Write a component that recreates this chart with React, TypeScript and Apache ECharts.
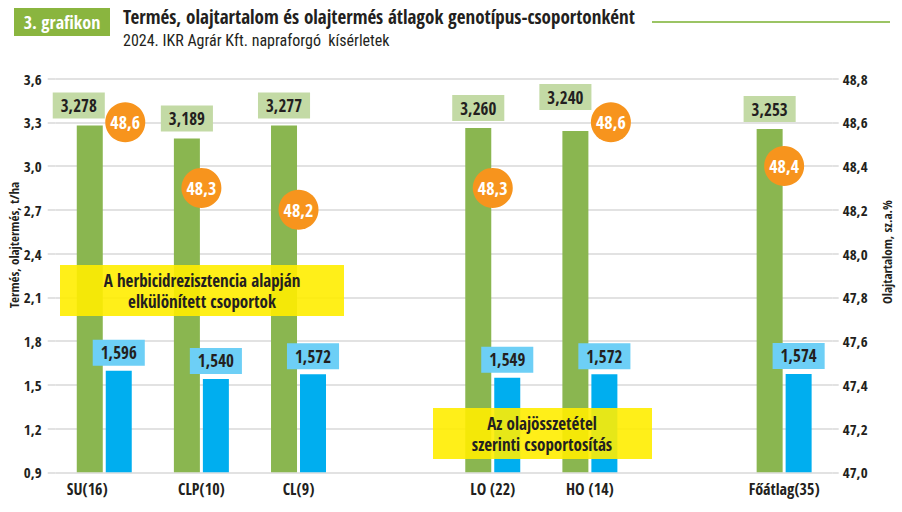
import React, { useEffect, useRef } from "react";
import * as echarts from "echarts";

const categories = ["SU(16)", "CLP(10)", "CL(9)", "", "LO (22)", "HO (14)", "", "Főátlag(35)"];
const yieldValues = [3.278, 3.189, 3.277, null, 3.26, 3.24, null, 3.253];
const oilYieldValues = [1.596, 1.54, 1.572, null, 1.549, 1.572, null, 1.574];
const oilContentValues = [48.6, 48.3, 48.2, null, 48.3, 48.6, null, 48.4];
const leftTicks = { min: 0.9, max: 3.6, interval: 0.3 };
const rightTicks = { min: 47.0, max: 48.8, interval: 0.2 };
const leftAxisTitle = "Termés, olajtermés, t/ha";
const rightAxisTitle = "Olajtartalom, sz.a.%";

// styling tweaks (not data)
const greenLabelOffsets = [[-11, 0], [0, 0], [0, 0], [0, 0], [0, 0], [-10, -14], [0, 0], [0, 0]];
const circleOffsets = [[21, 0], [0, 0], [0, 0], [0, 0], [0, 0], [21, 0], [0, 0], [0, 0]];

const FONT = "'Open Sans Condensed', 'Roboto Condensed', 'Liberation Sans', sans-serif";
const FONT_REG = "'Roboto Condensed', 'Liberation Sans', sans-serif";
const DARK = "#231f20";
const comma = (v: number, d: number) => v.toFixed(d).replace(".", ",");

export default function App() {
  const ref = useRef<HTMLDivElement>(null);
  useEffect(() => {
    if (!ref.current) return;
    const chart = echarts.init(ref.current, null, { renderer: "svg" });
    const xLabelStyle = { fontFamily: FONT, fontWeight: "bold", fontSize: 16, color: DARK };
    const option: any = {
      animation: false,
      backgroundColor: "#ffffff",
      textStyle: { fontFamily: FONT },
      grid: { left: 55.7, right: 69.3, top: 78.5, bottom: 39.7, containLabel: false, outerBoundsMode: "none" },
      xAxis: {
        type: "category",
        data: categories,
        axisLine: { show: false },
        axisTick: { show: false },
        axisLabel: {
          ...xLabelStyle,
          margin: 9,
          interval: 0,
          formatter: (v: string, i: number) => (i === 0 ? `{first|${v}}` : v),
          rich: { first: { ...xLabelStyle, padding: [0, 34, 0, 0] } },
        },
      },
      yAxis: [
        {
          type: "value",
          min: leftTicks.min,
          max: leftTicks.max,
          interval: leftTicks.interval,
          axisLine: { show: false },
          axisTick: { show: true, length: 8, lineStyle: { color: "#d9d9d9", width: 1.5 } },
          splitLine: { lineStyle: { color: "#d9d9d9", width: 1.5 } },
          axisLabel: {
            fontFamily: FONT, fontWeight: "bold", fontSize: 15, color: DARK, margin: 14,
            formatter: (v: number) => comma(v, 1),
          },
        },
        {
          type: "value",
          min: rightTicks.min,
          max: rightTicks.max,
          interval: rightTicks.interval,
          axisLine: { show: false },
          axisTick: { show: true, length: 6, lineStyle: { color: "#d9d9d9", width: 1.5 } },
          splitLine: { show: false },
          axisLabel: {
            fontFamily: FONT, fontWeight: "bold", fontSize: 15, color: DARK, margin: 10,
            formatter: (v: number) => comma(v, 1),
          },
        },
      ],
      series: [
        {
          type: "bar",
          name: "Termés",
          yAxisIndex: 0,
          barWidth: 26,
          barGap: "11.5%",
          itemStyle: { color: "#8ab650" },
          data: yieldValues.map((v, i) => ({
            value: v,
            label: { offset: greenLabelOffsets[i] },
          })),
          label: {
            show: true,
            position: "top",
            distance: 7,
            backgroundColor: "#c3daa5",
            padding: [4, 8, 4, 8],
            fontFamily: FONT,
            fontWeight: "bold",
            fontSize: 17,
            lineHeight: 18,
            color: DARK,
            formatter: (p: any) => (p.value == null ? "" : comma(p.value, 3)),
          },
          z: 2,
        },
        {
          type: "bar",
          name: "Olajtermés",
          yAxisIndex: 0,
          barWidth: 26,
          itemStyle: { color: "#00aeef" },
          data: oilYieldValues,
          label: {
            show: true,
            position: "top",
            distance: 5,
            backgroundColor: "#6dcff6",
            padding: [4, 8, 4, 8],
            fontFamily: FONT,
            fontWeight: "bold",
            fontSize: 17,
            lineHeight: 18,
            color: DARK,
            formatter: (p: any) => (p.value == null ? "" : comma(p.value, 3)),
          },
          z: 2,
        },
        {
          type: "scatter",
          name: "Olajtartalom",
          yAxisIndex: 1,
          symbol: "circle",
          symbolSize: 40,
          itemStyle: { color: "#f7941d", opacity: 1 },
          data: oilContentValues.map((v, i) => ({ value: v, symbolOffset: circleOffsets[i] })),
          label: {
            show: true,
            position: "inside",
            fontFamily: FONT,
            fontWeight: 600,
            fontSize: 18,
            color: "#ffffff",
            formatter: (p: any) => (p.value == null ? "" : comma(p.value, 1)),
          },
          z: 5,
        },
      ],
      graphic: [
        { type: "rect", left: 14, top: 8, shape: { width: 96, height: 28 }, style: { fill: "#8ab53f" }, z: 10 },
        {
          type: "text", x: 62, y: 22, z: 11,
          style: { text: "3. grafikon", fill: "#ffffff", font: `bold 18px ${FONT}`, textAlign: "center", textVerticalAlign: "middle" },
        },
        {
          type: "text", x: 123, y: 17, z: 11,
          style: { text: "Termés, olajtartalom és olajtermés átlagok genotípus-csoportonként", fill: DARK, font: `bold 19px ${FONT}`, textAlign: "left", textVerticalAlign: "middle" },
        },
        { type: "line", z: 10, shape: { x1: 652, y1: 22, x2: 890, y2: 22 }, style: { stroke: "#9bc464", lineWidth: 2 } },
        {
          type: "text", x: 123, y: 40, z: 11,
          style: { text: "2024. IKR Agrár Kft. napraforgó  kísérletek", fill: DARK, font: `16px ${FONT_REG}`, textAlign: "left", textVerticalAlign: "middle" },
        },
        {
          type: "text", x: 14, y: 245, rotation: Math.PI / 2, z: 11,
          style: { text: leftAxisTitle, fill: DARK, font: `bold 13px ${FONT}`, textAlign: "center", textVerticalAlign: "middle" },
        },
        {
          type: "text", x: 887, y: 252, rotation: Math.PI / 2, z: 11,
          style: { text: rightAxisTitle, fill: DARK, font: `bold 13px ${FONT}`, textAlign: "center", textVerticalAlign: "middle" },
        },
        { type: "rect", left: 60, top: 265, shape: { width: 284, height: 51 }, style: { fill: "rgba(255,237,0,0.9)" }, z: 100 },
        {
          type: "text", x: 202, y: 291, z: 101,
          style: { text: "A herbicidrezisztencia alapján\nelkülönített csoportok", fill: DARK, font: `bold 17px ${FONT}`, lineHeight: 21, textAlign: "center", textVerticalAlign: "middle" },
        },
        { type: "rect", left: 433, top: 408, shape: { width: 219, height: 51 }, style: { fill: "rgba(255,237,0,0.9)" }, z: 100 },
        {
          type: "text", x: 542, y: 434, z: 101,
          style: { text: "Az olajösszetétel\nszerinti csoportosítás", fill: DARK, font: `bold 17px ${FONT}`, lineHeight: 21, textAlign: "center", textVerticalAlign: "middle" },
        },
      ],
    };
    chart.setOption(option);
    return () => chart.dispose();
  }, []);
  return <div ref={ref} style={{ position: "fixed", left: 0, top: 0, width: 902, height: 512 }} />;
}
